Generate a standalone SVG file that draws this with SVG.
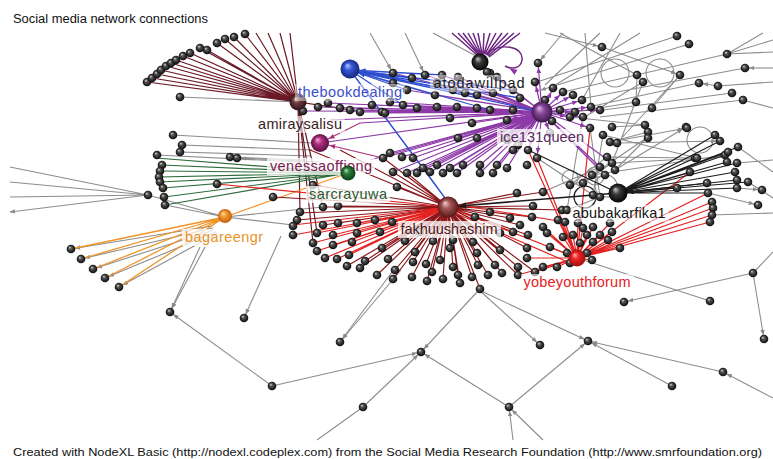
<svg xmlns="http://www.w3.org/2000/svg" width="773" height="459" viewBox="0 0 773 459">
<defs>
<style>
.n{fill:url(#gb)}
.g{stroke:#8d8d8d;stroke-width:1.1;fill:none}
.ma{stroke:#6a1a27;stroke-width:1.2;fill:none}
.bl{stroke:#2f4fd0;stroke-width:1.3;fill:none}
.pu{stroke:#8d3aa8;stroke-width:1.2;fill:none}
.pa{stroke:#6e2a82;stroke-width:1.5;fill:none}
.mg{stroke:#a8307a;stroke-width:1.2;fill:none}
.gr{stroke:#2e6c3b;stroke-width:1.2;fill:none}
.or{stroke:#f19428;stroke-width:1.3;fill:none}
.dr{stroke:#8a181a;stroke-width:1.15;fill:none}
.rd{stroke:#e42222;stroke-width:1.2;fill:none}
.bk{stroke:#1c1c1c;stroke-width:1.2;fill:none}
.lab{font-family:"Liberation Sans",Arial,sans-serif;font-size:14.5px;text-anchor:middle}
.box{fill:#ffffff}
.cap{font-family:"Liberation Sans",Arial,sans-serif;fill:#111}
</style>
<radialGradient id="gb" cx=".5" cy=".5" r=".5" fx=".35" fy=".3"><stop offset="0" stop-color="#d8d8d8"/><stop offset=".35" stop-color="#555"/><stop offset="1" stop-color="#0a0a0a"/></radialGradient>
<radialGradient id="gMa" cx=".5" cy=".5" r=".5" fx=".35" fy=".3"><stop offset="0" stop-color="#d8b8b8"/><stop offset=".4" stop-color="#6e3c40"/><stop offset="1" stop-color="#2e1418"/></radialGradient>
<radialGradient id="gBl" cx=".5" cy=".5" r=".5" fx=".35" fy=".3"><stop offset="0" stop-color="#b8c8ff"/><stop offset=".4" stop-color="#3558d8"/><stop offset="1" stop-color="#18287a"/></radialGradient>
<radialGradient id="gDk" cx=".5" cy=".5" r=".5" fx=".35" fy=".3"><stop offset="0" stop-color="#c8c8c8"/><stop offset=".4" stop-color="#3a3a3a"/><stop offset="1" stop-color="#050505"/></radialGradient>
<radialGradient id="gPu" cx=".5" cy=".5" r=".5" fx=".35" fy=".3"><stop offset="0" stop-color="#e0b8ec"/><stop offset=".4" stop-color="#8a4a9c"/><stop offset="1" stop-color="#40184e"/></radialGradient>
<radialGradient id="gMg" cx=".5" cy=".5" r=".5" fx=".35" fy=".3"><stop offset="0" stop-color="#f4b0d8"/><stop offset=".4" stop-color="#b03080"/><stop offset="1" stop-color="#5a1040"/></radialGradient>
<radialGradient id="gGr" cx=".5" cy=".5" r=".5" fx=".35" fy=".3"><stop offset="0" stop-color="#b0e8b0"/><stop offset=".4" stop-color="#2a7a3a"/><stop offset="1" stop-color="#0e401a"/></radialGradient>
<radialGradient id="gOr" cx=".5" cy=".5" r=".5" fx=".35" fy=".3"><stop offset="0" stop-color="#ffe0b0"/><stop offset=".4" stop-color="#f49a2c"/><stop offset="1" stop-color="#c06010"/></radialGradient>
<radialGradient id="gFk" cx=".5" cy=".5" r=".5" fx=".35" fy=".3"><stop offset="0" stop-color="#f4d0d0"/><stop offset=".4" stop-color="#a45858"/><stop offset="1" stop-color="#5a1818"/></radialGradient>
<radialGradient id="gRd" cx=".5" cy=".5" r=".5" fx=".35" fy=".3"><stop offset="0" stop-color="#ffb0b0"/><stop offset=".4" stop-color="#ee2424"/><stop offset="1" stop-color="#a01010"/></radialGradient>
<marker id="ag" viewBox="0 0 10 10" refX="17" refY="5" markerWidth="5" markerHeight="5" orient="auto"><path d="M0 1L10 5L0 9z" fill="#8a8a8a"/></marker>
<marker id="ag0" viewBox="0 0 10 10" refX="9" refY="5" markerWidth="5" markerHeight="5" orient="auto"><path d="M0 1L10 5L0 9z" fill="#8a8a8a"/></marker>
<marker id="ab" viewBox="0 0 10 10" refX="24" refY="5" markerWidth="5" markerHeight="5" orient="auto"><path d="M0 1L10 5L0 9z" fill="#2f4fd0"/></marker>
<marker id="ak" viewBox="0 0 10 10" refX="26" refY="5" markerWidth="5" markerHeight="5" orient="auto"><path d="M0 1L10 5L0 9z" fill="#1c1c1c"/></marker>
<marker id="ak2" viewBox="0 0 10 10" refX="23" refY="5" markerWidth="5" markerHeight="5" orient="auto"><path d="M0 1L10 5L0 9z" fill="#1c1c1c"/></marker>
<marker id="ap" viewBox="0 0 10 10" refX="17" refY="5" markerWidth="5" markerHeight="5" orient="auto"><path d="M0 1L10 5L0 9z" fill="#8d3aa8"/></marker>
<marker id="am" viewBox="0 0 10 10" refX="26" refY="5" markerWidth="5" markerHeight="5" orient="auto"><path d="M0 1L10 5L0 9z" fill="#a8307a"/></marker>
<circle id="d" r="4.3" class="n"/>
</defs>
<rect width="773" height="459" fill="#ffffff"/>
<text class="cap" x="13" y="23" font-size="12.5" textLength="195" lengthAdjust="spacingAndGlyphs">Social media network connections</text>

<g id="connectors">
<g id="loops">
<circle class="g" cx="615" cy="73" r="14"/>
<circle class="g" cx="660" cy="73" r="14"/>
<circle class="g" cx="700" cy="140" r="13"/>
<circle class="g" cx="595" cy="176" r="9"/>
<circle class="g" cx="570" cy="178" r="8"/>
<circle class="g" cx="606" cy="186" r="11"/>
<circle class="bk" cx="585" cy="197" r="11"/>
<path class="pa" d="M486 54C500 42 524 46 522 60C521 68 512 70 505 66" marker-end="url(#ap)"/>
</g>
<path class="g" d="M180 97L298 102M173 135L312 143M182 145L312 150M180 152L310 156M157 155L300 162M305 160L230 157M10 167L148 195M10 182L148 195M10 197L148 195M148 195L225 217M165 205L225 217M225 217L323 207M225 217L293 225M433 33L476 56M363 407L317 440M753 273L773 252M577 258L710 301M600 33L545 85M640 33L552 87M560 33L637 75M677 36L537 82M727 54L763 33M727 54L773 40M727 54L773 52M727 54L563 92M745 68L580 99M718 86L773 82M699 83L593 106M732 93L603 110M743 100L600 117M743 100L773 108M680 75L652 108M637 75L636 102M643 82L583 118M636 102L575 112M645 125L570 117M697 158L607 157M727 157L612 163M680 75L617 143M643 82L612 163M590 128L600 197M603 135L593 195M583 117L567 210M607 157L570 185M612 163L583 183M600 167L543 192M605 175L570 185M615 170L648 137M648 132L610 142M648 137L592 175M600 197L567 210M593 195L537 158M738 147L773 172M737 163L773 160M748 182L773 198M712 215L773 213M592 175L725 155M612 127L645 125M603 135L697 158M585 33L591 107M620 33L582 100"/>
<g class="g">
<line x1="148" y1="195" x2="10" y2="212" marker-end="url(#ag0)"/>
<line x1="320" y1="162" x2="237" y2="158" marker-end="url(#ag)"/>
<line x1="200" y1="247" x2="170" y2="312" marker-end="url(#ag)"/>
<line x1="205" y1="247" x2="170" y2="312" marker-end="url(#ag)"/>
<line x1="281" y1="236" x2="244" y2="318" marker-end="url(#ag)"/>
<line x1="395" y1="268" x2="340" y2="342" marker-end="url(#ag)"/>
<line x1="401" y1="270" x2="340" y2="342" marker-end="url(#ag)"/>
<line x1="272" y1="386" x2="170" y2="312" marker-end="url(#ag)"/>
<line x1="272" y1="386" x2="421" y2="352" marker-end="url(#ag)"/>
<line x1="363" y1="407" x2="421" y2="352" marker-end="url(#ag)"/>
<line x1="479" y1="290" x2="421" y2="352" marker-end="url(#ag)"/>
<line x1="479" y1="290" x2="540" y2="345" marker-end="url(#ag)"/>
<line x1="479" y1="290" x2="588" y2="341" marker-end="url(#ag)"/>
<line x1="509" y1="407" x2="421" y2="352" marker-end="url(#ag)"/>
<line x1="509" y1="407" x2="588" y2="341" marker-end="url(#ag)"/>
<line x1="672" y1="386" x2="588" y2="341" marker-end="url(#ag)"/>
<line x1="723" y1="372" x2="588" y2="341" marker-end="url(#ag)"/>
<line x1="773" y1="398" x2="723" y2="372" marker-end="url(#ag)"/>
<line x1="513" y1="440" x2="509" y2="407" marker-end="url(#ag)"/>
<line x1="543" y1="440" x2="509" y2="407" marker-end="url(#ag)"/>
<line x1="753" y1="273" x2="624" y2="302" marker-end="url(#ag)"/>
<line x1="753" y1="273" x2="764" y2="339" marker-end="url(#ag)"/>
<line x1="212" y1="226" x2="71" y2="249" marker-end="url(#ag)"/>
<line x1="213" y1="228" x2="81" y2="259" marker-end="url(#ag)"/>
<line x1="214" y1="230" x2="93" y2="269" marker-end="url(#ag)"/>
<line x1="216" y1="232" x2="105" y2="278" marker-end="url(#ag)"/>
<line x1="218" y1="233" x2="119" y2="287" marker-end="url(#ag)"/>
<line x1="370" y1="33" x2="393" y2="73" marker-end="url(#ag)"/>
<line x1="405" y1="33" x2="425" y2="75" marker-end="url(#ag)"/>
<line x1="545" y1="33" x2="602" y2="47" marker-end="url(#ag)"/>
<line x1="563" y1="33" x2="538" y2="63" marker-end="url(#ag)"/>
<line x1="602" y1="47" x2="680" y2="75" marker-end="url(#ag)"/>
<line x1="689" y1="44" x2="541" y2="90" marker-end="url(#ag0)"/>
<line x1="773" y1="68" x2="745" y2="68" marker-end="url(#ag)"/>
<line x1="718" y1="86" x2="699" y2="83" marker-end="url(#ag)"/>
<line x1="617" y1="143" x2="720" y2="141" marker-end="url(#ag)"/>
<line x1="610" y1="142" x2="687" y2="128" marker-end="url(#ag)"/>
<line x1="615" y1="170" x2="686" y2="127" marker-end="url(#ag)"/>
<line x1="737" y1="188" x2="762" y2="190" marker-end="url(#ag)"/>
<line x1="708" y1="193" x2="758" y2="205" marker-end="url(#ag)"/>
</g>
<path class="ma" d="M147 82L298 102M152 78L298 102M157 74L298 102M161 70L298 102M166 66L298 102M171 63L298 102M176 60L298 102M183 56L298 102M190 53L298 102M200 48L298 102M207 50L298 102M217 43L298 102M225 39L298 102M234 37L298 102M245 34L298 102M256 33L298 102M268 33L298 102M280 33L298 102M290 33L298 102M298 102L323 207M298 102L317 233M298 102L313 243M298 102L300 213M298 102L340 108M298 102L350 110"/>
<path class="gr" d="M162 165L348 173M160 171L348 173M159 177L348 173M160 182L348 173M163 188L348 173M164 197L348 173M165 205L348 173M156 158L348 173"/>
<path class="or" d="M225 217L71 249M225 217L81 259M225 217L93 269M225 217L105 278M225 217L119 287M225 217L348 173"/>
<path class="dr" d="M448 207L323 207M448 207L338 206M448 207L533 206M448 207L562 210M448 207L273 197M448 207L297 220M448 207L300 213M448 207L323 225M448 207L338 223M448 207L375 220M448 207L392 222M448 207L475 217M448 207L490 212M448 207L510 218M448 207L520 225M448 207L532 217M448 207L405 241M448 207L420 232M448 207L433 241M448 207L453 240M448 207L473 242M448 207L500 233M448 207L513 232M448 207L528 235M448 207L382 248M448 207L415 252M448 207L450 248M448 207L477 253M448 207L500 250M448 207L527 248M448 207L365 261M448 207L388 259M448 207L413 262M448 207L426 264M448 207L440 260M448 207L453 267M448 207L478 265M448 207L495 265M448 207L518 267M448 207L347 266M448 207L360 268M448 207L377 275M448 207L395 270M448 207L393 279M448 207L412 277M448 207L432 272M448 207L427 281M448 207L443 279M448 207L458 275M448 207L460 283M448 207L472 277M448 207L488 275M448 207L502 273M448 207L518 275M448 207L535 272M448 207L480 289M448 207L313 185M448 207L397 187M448 207L383 158M448 207L393 172M448 207L407 173M448 207L340 150M448 207L310 150M448 207L517 193M448 207L543 192"/>
<path class="rd" d="M448 207L217 184M448 207L293 225M448 207L293 235M448 207L317 233M448 207L333 235M448 207L313 243M448 207L333 245M448 207L317 251M448 207L325 258M448 207L337 259M448 207L349 255M448 207L352 242M448 207L357 233M448 207L357 223M448 207L380 232M577 258L708 193M577 258L712 202M577 258L713 208M577 258L712 215M577 258L710 222M577 258L690 172M577 258L620 248M577 258L608 240M577 258L612 232M577 258L610 223M577 258L593 227M577 258L593 242M577 258L587 253M577 258L592 260M577 258L565 222M577 258L578 223M577 258L583 228M577 258L587 235M577 258L573 235M577 258L580 243M577 258L600 235M577 258L557 267M577 258L570 263M577 258L543 267M577 258L535 272M577 258L518 275M577 258L527 258M577 258L550 247M577 258L567 253M577 258L563 237M577 258L537 158M577 258L590 128M577 258L528 150M577 258L547 233M577 258L558 220M577 258L543 227"/>
<path class="rd" stroke-width="3.5" d="M448 207L577 258"/>
<path class="rd" stroke-width="2" d="M448 210L570 263M452 204L565 222"/>
<path class="pu" d="M542 112L393 73M542 112L412 78M542 112L425 75M542 112L442 75M542 112L458 77M542 112L490 73M542 112L497 77M542 112L513 90M542 112L435 95M542 112L465 93M542 112L493 93M542 112L417 108M542 112L437 107M542 112L457 107M542 112L477 108M542 112L490 110M542 112L513 110M542 112L385 113M542 112L403 105M542 112L390 102M542 112L372 105M542 112L382 112M542 112L360 112M542 112L350 110M542 112L340 108M542 112L328 103M542 112L318 107M542 112L303 111M542 112L450 118M542 112L472 123M542 112L458 138M542 112L477 138M542 112L507 140M542 112L413 158M542 112L402 157M542 112L390 153M542 112L383 158M542 112L393 172M542 112L407 173M542 112L417 173M542 112L430 172M542 112L443 173M542 112L457 173M542 112L480 173M542 112L493 173M542 112L507 168M542 112L463 165M542 112L480 165M542 112L497 165M542 112L423 168M542 112L437 165M542 112L450 168M542 112L407 90M542 112L453 90M542 112L477 95M542 112L612 163M542 112L600 167M542 112L605 175"/>
<path class="pu" stroke-width="3" d="M542 112L370 160"/>
<path class="pu" stroke-width="2.5" d="M542 112L360 123"/>
<path class="pu" stroke-width="2" d="M542 112L330 120M542 112L320 143"/>
<g class="pu">
<line x1="542" y1="112" x2="535" y2="82" marker-end="url(#ap)"/>
<line x1="542" y1="112" x2="553" y2="88" marker-end="url(#ap)"/>
<line x1="542" y1="112" x2="563" y2="92" marker-end="url(#ap)"/>
<line x1="542" y1="112" x2="573" y2="95" marker-end="url(#ap)"/>
<line x1="542" y1="112" x2="582" y2="100" marker-end="url(#ap)"/>
<line x1="542" y1="112" x2="591" y2="107" marker-end="url(#ap)"/>
<line x1="542" y1="112" x2="583" y2="117" marker-end="url(#ap)"/>
<line x1="542" y1="112" x2="590" y2="128" marker-end="url(#ap)"/>
<line x1="542" y1="112" x2="570" y2="117" marker-end="url(#ap)"/>
<line x1="542" y1="112" x2="552" y2="121" marker-end="url(#ap)"/>
<line x1="542" y1="112" x2="550" y2="133" marker-end="url(#ap)"/>
<line x1="542" y1="112" x2="528" y2="150" marker-end="url(#ap)"/>
<line x1="542" y1="112" x2="537" y2="158" marker-end="url(#ap)"/>
<line x1="542" y1="112" x2="518" y2="145" marker-end="url(#ap)"/>
<line x1="542" y1="112" x2="513" y2="150" marker-end="url(#ap)"/>
<line x1="542" y1="112" x2="575" y2="112" marker-end="url(#ap)"/>
<line x1="542" y1="112" x2="600" y2="110" marker-end="url(#ap)"/>
<line x1="542" y1="112" x2="545" y2="100" marker-end="url(#ap)"/>
<line x1="542" y1="112" x2="507" y2="120" marker-end="url(#ap)"/>
<line x1="542" y1="112" x2="538" y2="63" marker-end="url(#ap)"/>
</g>
<path class="pa" d="M452 33L477 55M458 33L478 54M463 33L479 54M468 33L480 54M473 33L481 54M478 33L482 54M484 33L483 54M490 33L484 54M496 33L485 54M502 33L486 55M508 33L487 55M514 33L488 56M520 33L489 57"/>
<path class="bl" d="M350 70L477 95M350 70L513 90M350 70L490 110M350 70L520 98M350 70L445 198M350 70L437 187M350 70L403 105M350 70L465 93M350 70L435 95"/>
<path class="bl" stroke-width="3.5" d="M350 70L541 112"/>
<g class="bl">
<line x1="393" y1="83" x2="350" y2="70" marker-end="url(#ab)"/>
<line x1="412" y1="78" x2="350" y2="70" marker-end="url(#ab)"/>
<line x1="442" y1="75" x2="350" y2="70" marker-end="url(#ab)"/>
<line x1="407" y1="90" x2="350" y2="70" marker-end="url(#ab)"/>
</g>
<line class="mg" x1="383" y1="158" x2="320" y2="143" marker-end="url(#am)"/>
<line class="mg" x1="360" y1="123" x2="320" y2="143" marker-end="url(#am)"/>
<path class="bk" d="M618 193L690 172M618 193L695 158M618 193L707 183M618 193L725 155M618 193L727 162M618 193L728 152M618 193L737 163M618 193L737 188M618 193L738 147M618 193L715 135M618 193L720 141M618 193L708 193M618 193L528 150"/>
<g class="bk">
<line x1="737" y1="180" x2="618" y2="193" marker-end="url(#ak)"/>
<line x1="735" y1="172" x2="618" y2="193" marker-end="url(#ak)"/>
<line x1="748" y1="182" x2="618" y2="193" marker-end="url(#ak)"/>
<line x1="677" y1="188" x2="618" y2="193" marker-end="url(#ak)"/>
<line x1="618" y1="193" x2="448" y2="207" stroke-width="1.6" marker-end="url(#ak2)"/>
</g>
</g>

<g id="nodes">
<g id="arc-nodes">
<use id="a1" href="#d" x="147" y="82"/><use id="a2" href="#d" x="152" y="78"/><use id="a3" href="#d" x="157" y="74"/><use id="a4" href="#d" x="161" y="70"/><use id="a5" href="#d" x="166" y="66"/><use id="a6" href="#d" x="171" y="63"/><use id="a7" href="#d" x="176" y="60"/><use id="a8" href="#d" x="183" y="56"/><use id="a9" href="#d" x="190" y="53"/><use id="a10" href="#d" x="200" y="48"/><use id="a11" href="#d" x="207" y="50"/><use id="a12" href="#d" x="217" y="43"/><use id="a13" href="#d" x="225" y="39"/><use id="a14" href="#d" x="234" y="37"/><use id="a15" href="#d" x="245" y="34"/>
</g>
<g id="upper-nodes">
<use id="u1" href="#d" x="180" y="97"/><use id="u2" href="#d" x="303" y="111"/><use id="u3" href="#d" x="318" y="107"/><use id="u4" href="#d" x="328" y="103"/><use id="u5" href="#d" x="340" y="108"/><use id="u6" href="#d" x="350" y="110"/><use id="u7" href="#d" x="360" y="112"/><use id="u8" href="#d" x="372" y="105"/><use id="u9" href="#d" x="382" y="112"/><use id="u10" href="#d" x="390" y="102"/><use id="u11" href="#d" x="393" y="83"/><use id="u12" href="#d" x="407" y="90"/><use id="u13" href="#d" x="425" y="75"/><use id="u14" href="#d" x="442" y="75"/><use id="u15" href="#d" x="458" y="77"/><use id="u16" href="#d" x="437" y="83"/><use id="u17" href="#d" x="453" y="90"/><use id="u18" href="#d" x="465" y="93"/><use id="u19" href="#d" x="477" y="95"/><use id="u20" href="#d" x="490" y="73"/><use id="u21" href="#d" x="497" y="77"/><use id="u22" href="#d" x="513" y="90"/><use id="u23" href="#d" x="393" y="73"/><use id="u24" href="#d" x="412" y="78"/><use id="u25" href="#d" x="435" y="95"/><use id="u26" href="#d" x="493" y="93"/><use id="u27" href="#d" x="520" y="98"/><use id="u28" href="#d" x="417" y="108"/><use id="u29" href="#d" x="437" y="107"/><use id="u30" href="#d" x="457" y="107"/><use id="u31" href="#d" x="477" y="108"/><use id="u32" href="#d" x="490" y="110"/><use id="u33" href="#d" x="513" y="110"/><use id="u34" href="#d" x="385" y="113"/><use id="u35" href="#d" x="403" y="105"/><use id="u36" href="#d" x="450" y="118"/><use id="u37" href="#d" x="472" y="123"/><use id="u38" href="#d" x="458" y="138"/><use id="u39" href="#d" x="477" y="138"/><use id="u40" href="#d" x="507" y="140"/><use id="u41" href="#d" x="507" y="120"/><use id="u42" href="#d" x="487" y="72"/><use id="u43" href="#d" x="538" y="63"/>
</g>
<g id="ring-nodes">
<use id="r1" href="#d" x="535" y="82"/><use id="r2" href="#d" x="553" y="88"/><use id="r3" href="#d" x="563" y="92"/><use id="r4" href="#d" x="573" y="95"/><use id="r5" href="#d" x="582" y="100"/><use id="r6" href="#d" x="591" y="107"/><use id="r7" href="#d" x="583" y="117"/><use id="r8" href="#d" x="590" y="128"/><use id="r9" href="#d" x="570" y="117"/><use id="r10" href="#d" x="560" y="110"/><use id="r11" href="#d" x="552" y="121"/><use id="r12" href="#d" x="550" y="133"/><use id="r13" href="#d" x="528" y="150"/><use id="r14" href="#d" x="537" y="158"/><use id="r15" href="#d" x="518" y="145"/><use id="r16" href="#d" x="513" y="150"/><use id="r17" href="#d" x="575" y="112"/><use id="r18" href="#d" x="600" y="110"/><use id="r19" href="#d" x="545" y="100"/>
</g>
<g id="mid-nodes">
<use id="m1" href="#d" x="413" y="158"/><use id="m2" href="#d" x="402" y="157"/><use id="m3" href="#d" x="390" y="153"/><use id="m4" href="#d" x="383" y="158"/><use id="m5" href="#d" x="393" y="172"/><use id="m6" href="#d" x="407" y="173"/><use id="m7" href="#d" x="417" y="173"/><use id="m8" href="#d" x="430" y="172"/><use id="m9" href="#d" x="443" y="173"/><use id="m10" href="#d" x="457" y="173"/><use id="m11" href="#d" x="480" y="173"/><use id="m12" href="#d" x="493" y="173"/><use id="m13" href="#d" x="507" y="168"/><use id="m14" href="#d" x="463" y="165"/><use id="m15" href="#d" x="480" y="165"/><use id="m16" href="#d" x="497" y="165"/><use id="m17" href="#d" x="423" y="168"/><use id="m18" href="#d" x="437" y="165"/><use id="m19" href="#d" x="450" y="168"/><use id="m20" href="#d" x="527" y="165"/><use id="m21" href="#d" x="397" y="187"/><use id="m22" href="#d" x="313" y="185"/><use id="m23" href="#d" x="517" y="193"/><use id="m24" href="#d" x="543" y="192"/><use id="m25" href="#d" x="570" y="185"/><use id="m26" href="#d" x="583" y="183"/>
</g>
<g id="left-nodes">
<use id="l1" href="#d" x="173" y="135"/><use id="l2" href="#d" x="182" y="145"/><use id="l3" href="#d" x="180" y="152"/><use id="l4" href="#d" x="157" y="155"/><use id="l5" href="#d" x="230" y="157"/><use id="l6" href="#d" x="237" y="158"/><use id="l7" href="#d" x="162" y="165"/><use id="l8" href="#d" x="160" y="171"/><use id="l9" href="#d" x="159" y="177"/><use id="l10" href="#d" x="160" y="182"/><use id="l11" href="#d" x="163" y="188"/><use id="l12" href="#d" x="164" y="197"/><use id="l13" href="#d" x="165" y="205"/><use id="l14" href="#d" x="148" y="195"/><use id="l15" href="#d" x="217" y="184"/><use id="l16" href="#d" x="71" y="249"/><use id="l17" href="#d" x="81" y="259"/><use id="l18" href="#d" x="93" y="269"/><use id="l19" href="#d" x="105" y="278"/><use id="l20" href="#d" x="119" y="287"/>
</g>
<g id="band-nodes">
<use id="b1" href="#d" x="323" y="207"/><use id="b2" href="#d" x="338" y="206"/><use id="b3" href="#d" x="533" y="206"/><use id="b4" href="#d" x="562" y="210"/><use id="b5" href="#d" x="273" y="197"/><use id="b6" href="#d" x="297" y="220"/><use id="b7" href="#d" x="300" y="212"/>
<use id="b8" href="#d" x="293" y="226"/><use id="b9" href="#d" x="323" y="225"/><use id="b10" href="#d" x="338" y="223"/><use id="b11" href="#d" x="357" y="223"/><use id="b12" href="#d" x="375" y="220"/><use id="b13" href="#d" x="392" y="222"/><use id="b14" href="#d" x="475" y="217"/><use id="b15" href="#d" x="490" y="212"/><use id="b16" href="#d" x="510" y="218"/><use id="b17" href="#d" x="520" y="225"/><use id="b18" href="#d" x="532" y="217"/><use id="b19" href="#d" x="543" y="227"/><use id="b20" href="#d" x="558" y="220"/>
<use id="b21" href="#d" x="293" y="235"/><use id="b22" href="#d" x="317" y="233"/><use id="b23" href="#d" x="333" y="235"/><use id="b24" href="#d" x="357" y="233"/><use id="b25" href="#d" x="380" y="232"/><use id="b26" href="#d" x="405" y="241"/><use id="b27" href="#d" x="420" y="232"/><use id="b28" href="#d" x="433" y="241"/><use id="b29" href="#d" x="453" y="240"/><use id="b30" href="#d" x="473" y="242"/><use id="b31" href="#d" x="500" y="233"/><use id="b32" href="#d" x="513" y="232"/><use id="b33" href="#d" x="528" y="235"/><use id="b34" href="#d" x="547" y="233"/><use id="b35" href="#d" x="563" y="237"/>
<use id="b36" href="#d" x="313" y="243"/><use id="b37" href="#d" x="333" y="245"/><use id="b38" href="#d" x="352" y="242"/><use id="b39" href="#d" x="382" y="248"/><use id="b40" href="#d" x="415" y="252"/><use id="b41" href="#d" x="450" y="248"/><use id="b42" href="#d" x="477" y="253"/><use id="b43" href="#d" x="500" y="250"/><use id="b44" href="#d" x="527" y="248"/><use id="b45" href="#d" x="550" y="247"/><use id="b46" href="#d" x="567" y="253"/>
<use id="b47" href="#d" x="317" y="251"/><use id="b48" href="#d" x="325" y="258"/><use id="b49" href="#d" x="337" y="259"/><use id="b50" href="#d" x="349" y="255"/><use id="b51" href="#d" x="365" y="261"/><use id="b52" href="#d" x="388" y="259"/><use id="b53" href="#d" x="413" y="262"/><use id="b54" href="#d" x="426" y="264"/><use id="b55" href="#d" x="440" y="260"/><use id="b56" href="#d" x="453" y="267"/><use id="b57" href="#d" x="478" y="265"/><use id="b58" href="#d" x="495" y="265"/><use id="b59" href="#d" x="518" y="267"/><use id="b60" href="#d" x="527" y="258"/><use id="b61" href="#d" x="543" y="267"/><use id="b62" href="#d" x="557" y="267"/><use id="b63" href="#d" x="570" y="263"/>
<use id="b64" href="#d" x="347" y="266"/><use id="b65" href="#d" x="360" y="268"/><use id="b66" href="#d" x="377" y="275"/><use id="b67" href="#d" x="395" y="270"/><use id="b68" href="#d" x="393" y="279"/><use id="b69" href="#d" x="412" y="277"/><use id="b70" href="#d" x="432" y="272"/><use id="b71" href="#d" x="427" y="281"/><use id="b72" href="#d" x="443" y="279"/><use id="b73" href="#d" x="458" y="275"/><use id="b74" href="#d" x="460" y="283"/><use id="b75" href="#d" x="472" y="277"/><use id="b76" href="#d" x="488" y="275"/><use id="b77" href="#d" x="502" y="273"/><use id="b78" href="#d" x="518" y="275"/><use id="b79" href="#d" x="535" y="272"/><use id="b80" href="#d" x="480" y="289"/>
</g>
<g id="yk-nodes">
<use id="y1" href="#d" x="565" y="222"/><use id="y2" href="#d" x="578" y="223"/><use id="y3" href="#d" x="583" y="228"/><use id="y4" href="#d" x="593" y="227"/><use id="y5" href="#d" x="610" y="223"/><use id="y6" href="#d" x="612" y="232"/><use id="y7" href="#d" x="600" y="235"/><use id="y8" href="#d" x="587" y="235"/><use id="y9" href="#d" x="573" y="235"/><use id="y10" href="#d" x="580" y="243"/><use id="y11" href="#d" x="593" y="242"/><use id="y12" href="#d" x="608" y="240"/><use id="y13" href="#d" x="587" y="253"/><use id="y14" href="#d" x="592" y="260"/><use id="y15" href="#d" x="620" y="248"/>
<use id="t1" href="#d" x="607" y="157"/><use id="t2" href="#d" x="612" y="163"/><use id="t3" href="#d" x="615" y="170"/><use id="t4" href="#d" x="600" y="167"/><use id="t5" href="#d" x="605" y="175"/><use id="t6" href="#d" x="592" y="175"/><use id="t7" href="#d" x="610" y="142"/><use id="t8" href="#d" x="617" y="143"/><use id="t9" href="#d" x="603" y="135"/><use id="t10" href="#d" x="593" y="195"/><use id="t11" href="#d" x="600" y="197"/><use id="t12" href="#d" x="567" y="210"/><use id="t13" href="#d" x="645" y="125"/><use id="t14" href="#d" x="648" y="132"/><use id="t15" href="#d" x="648" y="138"/>
<use id="k1" href="#d" x="677" y="188"/><use id="k2" href="#d" x="690" y="172"/><use id="k3" href="#d" x="695" y="158"/><use id="k4" href="#d" x="707" y="183"/><use id="k5" href="#d" x="708" y="193"/><use id="k6" href="#d" x="712" y="202"/><use id="k7" href="#d" x="713" y="208"/><use id="k8" href="#d" x="712" y="215"/><use id="k9" href="#d" x="710" y="222"/><use id="k10" href="#d" x="725" y="155"/><use id="k11" href="#d" x="727" y="162"/><use id="k12" href="#d" x="728" y="152"/><use id="k13" href="#d" x="735" y="172"/><use id="k14" href="#d" x="737" y="163"/><use id="k15" href="#d" x="737" y="180"/><use id="k16" href="#d" x="737" y="188"/><use id="k17" href="#d" x="738" y="147"/><use id="k18" href="#d" x="748" y="182"/><use id="k19" href="#d" x="762" y="190"/><use id="k20" href="#d" x="758" y="205"/><use id="k21" href="#d" x="715" y="135"/><use id="k22" href="#d" x="720" y="141"/><use id="k23" href="#d" x="686" y="127"/>
</g>
<g id="topright-nodes">
<use id="p1" href="#d" x="677" y="36"/><use id="p2" href="#d" x="689" y="44"/><use id="p3" href="#d" x="602" y="47"/><use id="p4" href="#d" x="727" y="54"/><use id="p5" href="#d" x="745" y="68"/><use id="p6" href="#d" x="637" y="75"/><use id="p7" href="#d" x="643" y="82"/><use id="p8" href="#d" x="680" y="75"/><use id="p9" href="#d" x="699" y="83"/><use id="p10" href="#d" x="718" y="86"/><use id="p11" href="#d" x="732" y="93"/><use id="p12" href="#d" x="743" y="100"/><use id="p13" href="#d" x="636" y="102"/><use id="p14" href="#d" x="652" y="108"/><use id="p15" href="#d" x="687" y="128"/><use id="p16" href="#d" x="697" y="158"/><use id="p17" href="#d" x="612" y="127"/>
</g>
<g id="bottom-nodes">
<use id="q1" href="#d" x="170" y="312"/><use id="q2" href="#d" x="244" y="318"/><use id="q3" href="#d" x="340" y="342"/><use id="q4" href="#d" x="540" y="345"/><use id="q5" href="#d" x="588" y="341"/><use id="q6" href="#d" x="421" y="352"/><use id="q7" href="#d" x="272" y="386"/><use id="q8" href="#d" x="363" y="407"/><use id="q9" href="#d" x="509" y="407"/><use id="q10" href="#d" x="672" y="386"/><use id="q11" href="#d" x="723" y="372"/><use id="q12" href="#d" x="624" y="302"/><use id="q13" href="#d" x="710" y="301"/><use id="q14" href="#d" x="764" y="339"/><use id="q15" href="#d" x="753" y="273"/>
</g>
</g>

<g id="hub-amiraysalisu"><circle cx="298" cy="102" r="8.5" fill="url(#gMa)"/><rect class="box" x="255" y="116" width="90" height="17" fill-opacity=".6"/><text class="lab" x="300" y="129" fill="#3a1a20" textLength="84">amiraysalisu</text></g>
<g id="hub-thebookdealing"><circle cx="350" cy="69" r="9.5" fill="url(#gBl)"/><rect class="box" x="295" y="84" width="110" height="17" fill-opacity=".45"/><text class="lab" x="350" y="97" fill="#3a50c8" textLength="104">thebookdealing</text></g>
<g id="hub-atodawillpad"><circle cx="480" cy="62" r="8.5" fill="url(#gDk)"/><rect class="box" x="430" y="75" width="99" height="17" fill-opacity=".45"/><text class="lab" x="479" y="88" fill="#1a1a1a" textLength="91">atodawillpad</text></g>
<g id="hub-ice131queen"><circle cx="542" cy="112" r="10.5" fill="url(#gPu)"/><rect class="box" x="497" y="129" width="90" height="17" fill-opacity=".75"/><text class="lab" x="542" y="142" fill="#5a2a5e" textLength="84">ice131queen</text></g>
<g id="hub-venessaoffiong"><circle cx="320" cy="143" r="9" fill="url(#gMg)"/><rect class="box" x="267" y="158" width="108" height="17" fill-opacity=".75"/><text class="lab" x="321" y="171" fill="#7a2050" textLength="102">venessaoffiong</text></g>
<g id="hub-sarcrayuwa"><circle cx="348" cy="173" r="7.5" fill="url(#gGr)"/><rect class="box" x="306" y="186" width="84" height="17" fill-opacity=".75"/><text class="lab" x="348" y="199" fill="#2a5a32" textLength="78">sarcrayuwa</text></g>
<g id="hub-bagareengr"><circle cx="225" cy="216" r="7" fill="url(#gOr)"/><rect class="box" x="182" y="229" width="84" height="17" fill-opacity=".75"/><text class="lab" x="224" y="242" fill="#e8922a" textLength="78">bagareengr</text></g>
<g id="hub-fakhuushashim"><circle cx="448" cy="207" r="10.5" fill="url(#gFk)"/><rect class="box" x="398" y="221" width="103" height="17" fill-opacity=".75"/><text class="lab" x="449" y="234" fill="#4a1818" textLength="97">fakhuushashim</text></g>
<g id="hub-abubakarfika1"><circle cx="618" cy="193" r="9.5" fill="url(#gDk)"/><rect class="box" x="570" y="205" width="99" height="17" fill-opacity=".5"/><text class="lab" x="619" y="218" fill="#151515" textLength="93">abubakarfika1</text></g>
<g id="hub-yobeyouthforum"><circle cx="577" cy="258" r="8.5" fill="url(#gRd)"/><rect class="box" x="521" y="274" width="113" height="17" fill-opacity=".6"/><text class="lab" x="577" y="287" fill="#e42020" textLength="107">yobeyouthforum</text></g>

<text class="cap" x="13" y="456" font-size="11.5" textLength="749" lengthAdjust="spacingAndGlyphs">Created with NodeXL Basic (http://nodexl.codeplex.com) from the Social Media Research Foundation (http://www.smrfoundation.org)</text>
</svg>
